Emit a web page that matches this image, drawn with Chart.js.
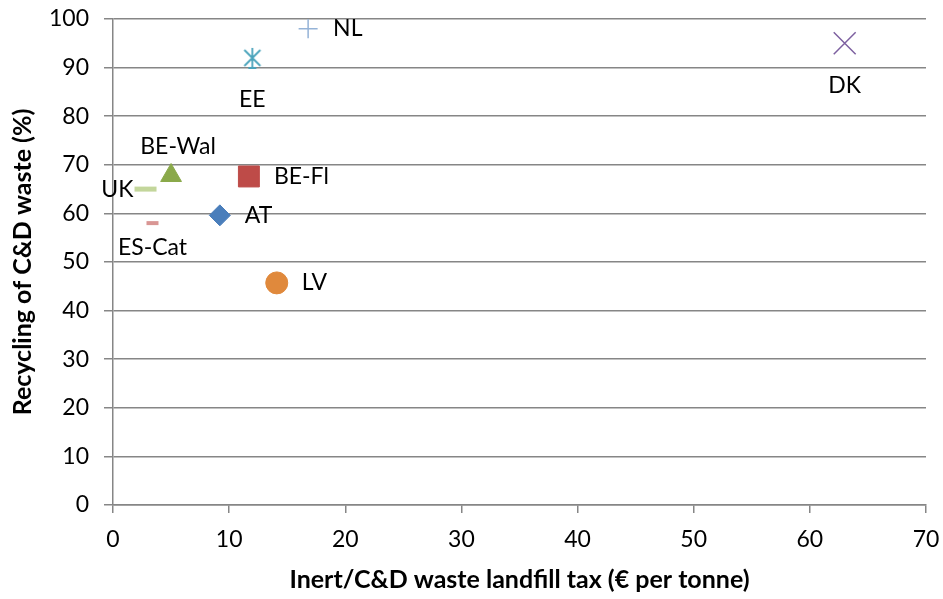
<!DOCTYPE html>
<html>
<head>
<meta charset="utf-8">
<script src="https://cdn.jsdelivr.net/npm/chart.js@4.4.1/dist/chart.umd.min.js"></script>
<style>
  html, body { margin: 0; padding: 0; background: #fff; }
  #wrap { width: 943px; height: 599px; }
</style>
</head>
<body>
<div id="wrap"><canvas id="chart" width="943" height="599"></canvas></div>
<script>
// landfill tax vs recycling of C&D waste
const countries = ["AT", "BE-Fl", "BE-Wal", "LV", "DK", "EE", "NL", "UK", "ES-Cat"];
const taxValues = [9.2, 11.7, 5.0, 14.1, 63.0, 12.0, 16.8, 2.8, 3.4];
const recyclingValues = [59.6, 67.6, 67.8, 45.7, 95.0, 92.0, 98.0, 65.0, 58.0];
const xTicks = [0, 10, 20, 30, 40, 50, 60, 70];
const yTicks = [0, 10, 20, 30, 40, 50, 60, 70, 80, 90, 100];

// excel-like star marker: X plus a vertical bar
function starMarker(color) {
	const c = document.createElement("canvas");
	c.width = 22;
	c.height = 22;
	const g = c.getContext("2d");
	g.strokeStyle = color;
	g.lineWidth = 1.8;
	g.beginPath();
	g.moveTo(11, 1); g.lineTo(11, 21);
	g.moveTo(3, 3); g.lineTo(19, 19);
	g.moveTo(19, 3); g.lineTo(3, 19);
	g.moveTo(7, 21); g.lineTo(15, 21);
	g.stroke();
	return c;
}

// marker look per country
const markerColors = ["#4a7ebb", "#be4b48", "#8aa94a", "#e0893c", "#7d60a0", "#4aa3bb", "#95b3d7", "#c3d69b", "#d99694"];
const markerStyles = ["rectRot", "rect", "triangle", "circle", "crossRot", starMarker(markerColors[5]), "cross", "line", "line"];
const markerSizes = [10.5, 14.8, 12, 11, 15.5, 10, 9.5, 11, 6];
const markerWidths = [1, 1, 1, 1, 1.5, 1.8, 1.5, 5, 4];
const labelSide = ["right", "right", "above", "right", "below", "below", "right", "left", "below"];

const FONT = "Lato, 'Open Sans', sans-serif";

const datasets = countries.map((name, i) => ({
	label: name,
	data: [{ x: taxValues[i], y: recyclingValues[i] }],
	pointStyle: markerStyles[i],
	pointRadius: markerSizes[i],
	pointHoverRadius: markerSizes[i],
	borderWidth: markerWidths[i],
	backgroundColor: markerColors[i],
	borderColor: markerColors[i],
}));

const pointLabels = {
	id: "pointLabels",
	afterDatasetsDraw(chart) {
		const ctx = chart.ctx;
		ctx.save();
		ctx.font = "23px " + FONT;
		ctx.fillStyle = "#000";
		chart.data.datasets.forEach((ds, i) => {
			const pt = chart.getDatasetMeta(i).data[0];
			const side = labelSide[i];
			let x = pt.x, y = pt.y;
			ctx.textBaseline = "middle";
			if (side === "right") {
				ctx.textAlign = "left"; x += 25;
			} else if (side === "left") {
				ctx.textAlign = "right"; x -= 12;
			} else if (side === "below") {
				ctx.textAlign = "center"; y += (i === 8 ? 24 : 42);
			} else {
				ctx.textAlign = "center"; y -= 29; x += 7;
			}
			ctx.fillText(ds.label, x, y);
		});
		ctx.restore();
	},
};

new Chart(document.getElementById("chart").getContext("2d"), {
	type: "scatter",
	data: { datasets },
	plugins: [pointLabels],
	options: {
		responsive: false,
		animation: false,
		layout: { padding: { left: 0, right: 15, top: 19, bottom: 0 } },
		plugins: {
			legend: { display: false },
			tooltip: { enabled: false },
		},
		scales: {
			x: {
				type: "linear",
				min: 0,
				max: 70,
				afterBuildTicks: (scale) => {
					scale.ticks = xTicks.map((v) => ({ value: v }));
				},
				afterFit: (scale) => {
					scale.height = 94;
					scale.paddingLeft = 0;
					scale.paddingRight = 0;
				},
				ticks: { color: "#000", font: { family: FONT, size: 23 }, padding: 13 },
				grid: { drawOnChartArea: false, color: "#868686", tickLength: 8, lineWidth: 1.5 },
				border: { color: "#868686", width: 1.5 },
				title: {
					display: true,
					text: "Inert/C&D waste landfill tax (€ per tonne)",
					color: "#000",
					font: { family: FONT, size: 25, weight: "bold" },
					padding: { top: 4 },
				},
			},
			y: {
				type: "linear",
				min: 0,
				max: 100,
				afterBuildTicks: (scale) => {
					scale.ticks = yTicks.map((v) => ({ value: v }));
				},
				afterFit: (scale) => {
					scale.width = 113;
					scale.paddingTop = 0;
					scale.paddingBottom = 0;
				},
				ticks: { color: "#000", font: { family: FONT, size: 23 }, padding: 15 },
				grid: { color: "#868686", tickLength: 9, lineWidth: 1.5 },
				border: { color: "#868686", width: 1.5 },
				title: {
					display: true,
					text: "Recycling of C&D waste (%)",
					color: "#000",
					font: { family: FONT, size: 25, weight: "bold" },
					padding: { top: 8, bottom: 4 },
				},
			},
		},
	},
});
</script>
</body>
</html>
